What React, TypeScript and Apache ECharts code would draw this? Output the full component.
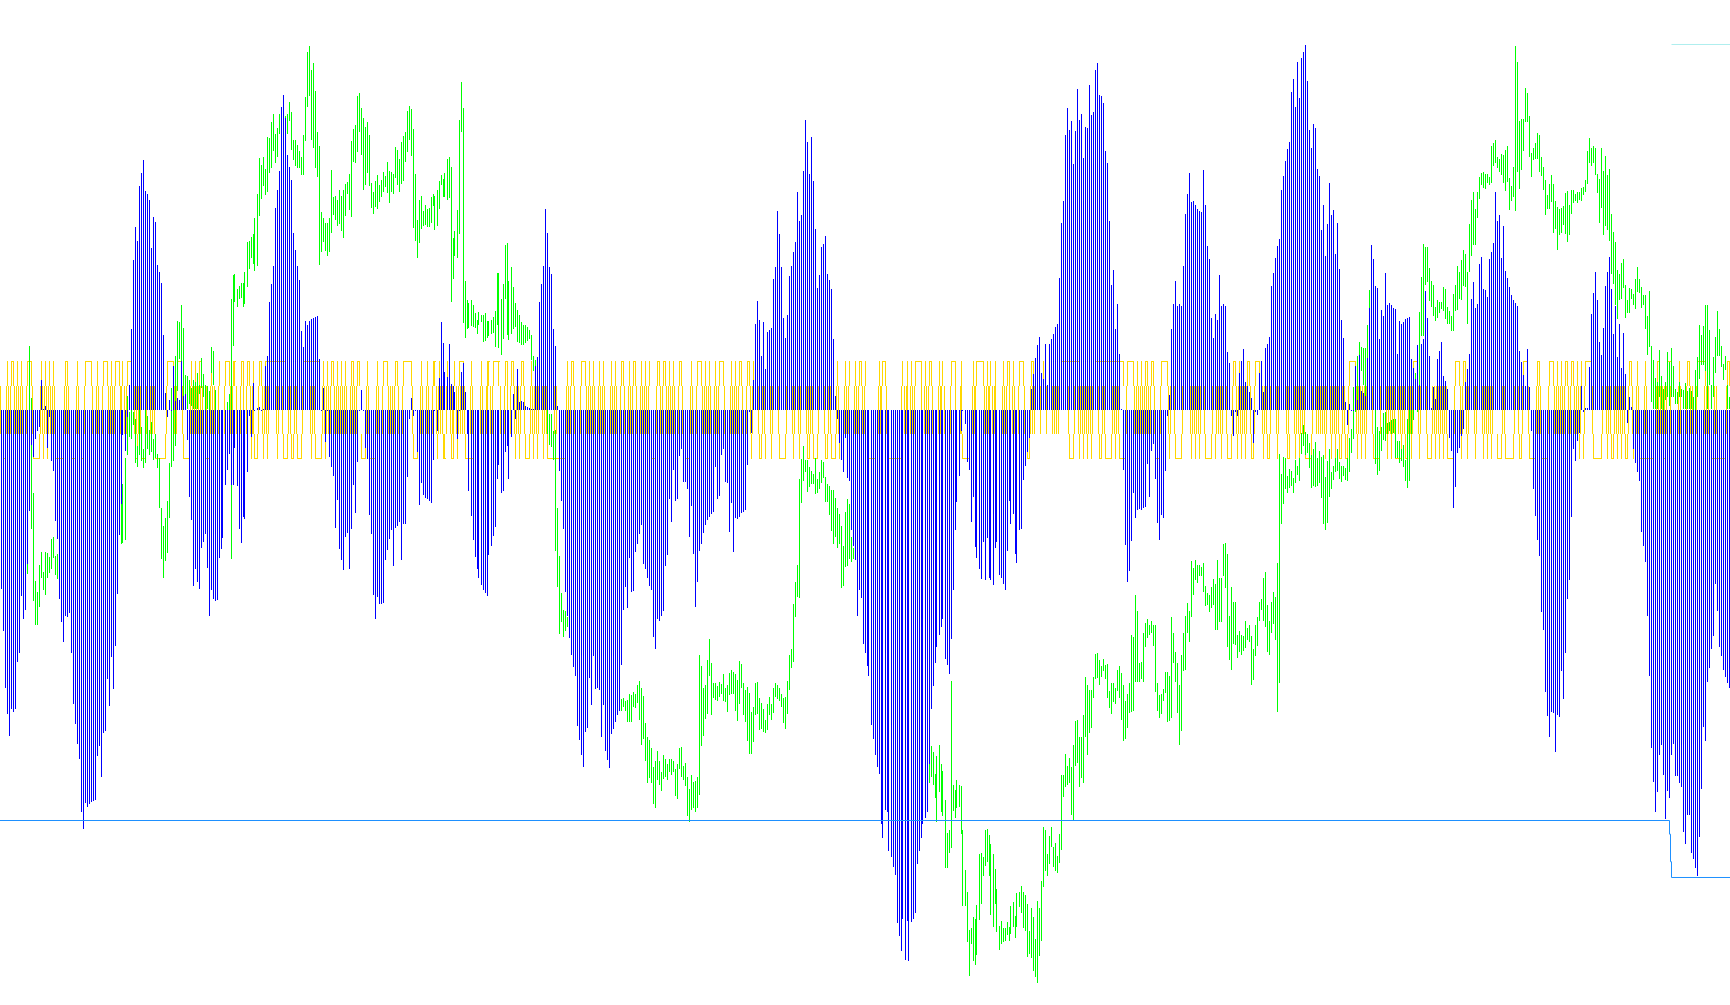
import React, { useEffect, useRef } from "react";
import * as echarts from "echarts";

// Readings taken panel by panel; 621 is the reading of the zero line.
const ZERO_READING = 621;

const bluePanel1 = [
914,982,1076,1117,1154,1110,1114,1110,1033,1018,925,963,
948,873,786,678,698,669,655,648,572,620,614,683,
632,705,720,803,832,930,968,1000,957,960,953,1018,
1102,1134,1167,1191,1278,1306,1263,1270,1265,1262,1260,1258,
1186,1170,1221,1149,1145,1061,1105,1025,1077,1007,922,825,
775,662,688,632,580,488,376,322,345,255,234,212,
263,268,278,356,305,314,384,395,413,498,593,633,
604,622,549,606,601,604,541,598,595,670,763,801,
909,881,902,914,847,837,823,879,958,915,930,933];
const bluePanel2 = [
932,863,848,830,744,719,693,743,744,683,745,816,
839,796,799,723,630,665,577,621,617,616,621,619,
549,533,445,415,385,291,261,230,126,106,144,205,
224,246,332,360,386,409,492,518,476,482,476,472,
470,469,467,537,621,585,673,623,698,714,729,814,
768,848,866,883,829,822,881,816,744,790,706,622,
589,622,683,701,793,824,923,963,927,938,938,937,
866,850,832,817,876,814,811,804,866,807,807,731,
636,601,631,621,690,776,741,760,765,767,770,773];
const bluePanel3 = [
703,622,656,568,477,511,559,567,513,578,581,591,
669,621,559,544,591,660,754,794,834,861,881,896,
907,915,920,925,858,843,827,812,734,711,757,754,
690,680,734,665,595,636,554,608,606,608,614,616,
618,620,620,549,534,445,415,385,292,331,387,399,
488,516,614,721,770,816,919,958,993,1022,1041,1056,
1137,1160,1185,1204,1147,1141,1059,1103,1023,1077,1075,1079,
1155,1103,1178,1193,1206,1150,1142,1131,1119,1113,1037,948,
910,945,863,919,917,853,840,823,809,873,881,896];
const bluePanel4 = [
909,915,992,1012,963,965,957,950,876,858,767,804,
719,770,767,696,685,738,739,750,829,778,856,943,
902,852,840,822,809,801,795,791,788,714,767,762,
695,685,738,740,821,773,853,798,799,795,789,787,
785,711,625,659,572,480,443,474,533,478,554,494,
491,487,407,388,296,333,388,470,504,465,402,385,
363,346,265,312,302,230,147,183,235,175,247,325,
422,400,354,350,336,399,408,423,505,598,636,675,
703,723,667,732,737,817,843,866,958,915,928,1003];
const bluePanel5 = [
1018,1039,1056,1136,1159,1184,1204,1216,1297,1320,1275,1278,
1342,1352,1368,1381,1459,1480,1505,1453,1520,1456,1521,1458,
1452,1443,1363,1342,1320,1298,1288,1278,1200,1110,1072,1035,
1008,989,975,962,1028,1038,1052,995,915,817,772,729,
655,622,644,706,719,804,763,845,863,881,897,837,
899,830,895,899,907,847,836,891,895,905,915,851,
769,808,791,856,871,817,816,736,712,689,667,587,
562,536,514,501,561,570,513,580,513,505,497,485,
480,405,315,279,171,128,163,149,219,165,96,147];
const bluePanel6 = [
137,209,158,161,90,139,134,65,54,106,108,119,
198,217,312,416,392,489,448,529,619,719,842,902,
884,835,757,798,785,782,784,781,780,710,763,688,
677,734,806,834,792,797,721,630,596,488,448,410,
451,448,451,385,301,268,234,281,279,286,292,296,
297,229,286,353,374,470,503,464,474,400,451,448,
451,526,544,631,664,625,631,560,541,521,575,581,
591,601,675,625,629,560,541,591,519,513,501,418,
397,372,353,341,261,238,214,194,183,101,80,126];
const bluePanel7 = [
52,112,46,36,24,83,163,193,154,160,227,238,
327,286,369,317,250,302,294,366,315,390,474,503,
608,645,611,621,621,549,605,531,590,593,598,536,
454,351,374,418,421,505,457,467,397,449,446,449,
454,456,529,475,480,477,472,470,469,537,552,570,
514,580,513,505,426,470,532,618,584,603,537,524,
510,565,574,586,666,688,781,746,692,683,664,652,
575,554,529,439,412,454,447,382,371,423,425,436,
374,363,348,265,312,302,372,320,394,405,420,433];
const bluePanel8 = [
441,446,451,524,542,563,581,521,583,655,750,794,
833,860,951,981,1082,1121,1155,1114,1116,1180,1120,1123,
1047,1093,1018,930,899,795,685,705,672,658,581,625,
618,617,550,464,430,395,441,510,531,487,418,395,
371,423,497,451,534,480,552,495,562,642,599,616,
685,707,723,737,820,843,869,958,1056,1173,1229,1278,
1245,1184,1168,1217,1290,1244,1255,1185,1167,1219,1219,1230,
1237,1311,1330,1282,1283,1345,1355,1369,1383,1319,1240,1139,
1162,1066,1042,1012,990,905,950,1008,1023,1045,1057,1067,1075];

// Each panel: high reading, low reading, bar after bar.
const greenPanel1 = [
730,800,740,820,760,860,780,880,770,870,760,870,780,880,800,900,810,905,790,880,770,860,740,830,
700,800,650,889,516,760,601,816,756,933,900,972,918,972,875,943,853,895,885,915,853,923,854,896,
861,887,831,880,828,863,860,890,857,897,840,900,820,880,800,870,810,880,790,860,780,850,800,870,
820,880,830,890,810,870,780,850,760,830,770,840,790,860,800,870,780,850,770,840,790,850,800,860,
810,870,790,850,780,840,800,860,810,870,790,850,770,830,760,830,780,840,760,820,740,830,740,810,
775,840,742,838,700,833,598,695,625,665,615,668,625,645,635,708,680,714,620,695,648,705,685,715,
620,708,630,685,653,695,640,690,668,702,660,700,693,715,700,781,781,864,810,895,797,867,769,855,
707,797,585,714,620,705,533,680,475,590,478,537,450,568,487,600,563,612,565,620,572,612,585,615,
572,620,575,620,560,620,580,595,536,585,562,600,580,630,581,620,590,640,518,560,524,580,588,640];
const greenPanel2 = [
640,760,640,780,650,800,650,790,640,740,608,700,595,690,439,865,400,517,399,445,423,453,419,440,
413,438,413,453,395,447,346,420,345,390,338,373,333,383,308,394,268,385,210,304,220,276,207,255,
227,270,175,265,177,233,150,226,138,198,170,218,160,208,137,170,127,160,130,170,140,175,138,170,
118,148,134,197,180,213,180,222,188,225,198,225,207,237,171,237,109,182,36,126,27,108,65,180,
54,193,100,225,167,240,189,384,297,363,307,346,315,361,315,370,307,363,229,331,273,302,271,311,
278,320,261,317,271,328,261,340,252,304,248,268,235,295,181,306,162,215,155,218,108,200,103,166,
127,204,144,261,158,253,150,234,171,255,250,291,265,300,247,289,237,293,253,281,245,273,232,265,
238,256,216,266,230,282,232,265,235,268,192,242,197,254,211,265,183,252,173,247,167,216,132,200,
124,180,129,206,162,323,235,345,310,373,278,348,271,325,296,321,286,318,293,322,291,322,273,315];
const greenPanel3 = [
268,287,272,327,261,321,247,293,237,254,243,273,234,273,211,278,207,274,224,445,340,407,328,369,
295,373,147,333,85,167,127,479,410,504,441,489,446,487,441,484,449,485,462,487,474,497,461,482,
465,477,465,510,462,508,475,503,475,500,474,497,469,495,459,518,397,482,397,520,439,531,415,505,
351,440,348,499,410,507,387,497,420,489,446,485,457,510,465,512,477,514,482,515,482,511,485,508,
491,505,498,540,532,558,540,570,550,580,530,590,540,585,560,600,580,615,620,660,627,678,627,681,
655,703,653,852,781,910,859,987,920,968,947,992,950,982,960,975,950,985,960,1015,970,1035,980,1050,
990,1060,1000,1060,1000,1050,1000,1050,1000,1050,1000,1050,1000,1050,1000,1050,980,1020,1000,1060,1010,1065,1020,1070,
1030,1075,1040,1095,1040,1095,1040,1100,1050,1100,1050,1100,1050,1100,1060,1105,1060,1105,1070,1110,1093,1112,1091,1107,
1096,1112,1094,1131,1085,1131,1086,1131,1081,1107,1085,1108,1070,1100,1063,1128,1076,1168,1088,1158,1132,1195,1155,1231];
const greenPanel4 = [
1160,1222,1174,1231,1205,1264,1194,1271,1178,1226,1194,1234,1212,1244,1184,1224,1191,1220,1200,1226,1192,1212,1191,1217,
1195,1213,1207,1251,1200,1257,1173,1208,1171,1220,1202,1225,1197,1235,1220,1284,1240,1294,1217,1275,1229,1271,1227,1278,
1220,1272,1021,1250,1040,1170,1075,1153,1070,1126,1029,1118,995,1056,1034,1119,1067,1092,1067,1095,1072,1097,1065,1090,
1068,1085,1052,1097,1075,1098,1071,1115,1050,1087,1045,1085,1049,1085,1052,1113,1062,1129,1031,1101,1036,1075,1067,1119,
1079,1131,1073,1162,1083,1183,1114,1183,1106,1164,1067,1119,1065,1117,1091,1144,1100,1142,1109,1147,1127,1148,1102,1143,
1090,1120,1102,1128,1076,1116,1067,1090,1071,1093,1076,1097,1085,1107,1091,1133,1090,1142,1063,1118,1022,1079,1012,1043,
938,1033,902,959,874,927,733,928,701,773,679,737,702,722,703,755,714,746,720,742,726,742,700,758,
733,757,722,750,702,740,706,732,730,771,742,771,745,792,751,818,751,840,764,829,781,846,791,840,
811,911,844,908,787,878,767,876,774,864,828,870,846,865,840,860,860,900,880,910,880,920,900,960];
const greenPanel5 = [
930,1000,940,1010,960,1030,980,1060,990,1080,1000,1090,1010,1100,1030,1120,1050,1140,1060,1150,1070,1150,1080,1170,
1090,1180,1100,1190,1100,1190,1110,1200,1120,1210,1130,1220,1130,1230,1140,1240,1140,1240,1150,1250,1150,1250,1160,1250,
1170,1260,1180,1270,1190,1280,1180,1270,1180,1270,1170,1260,1170,1260,1170,1230,1170,1230,1170,1220,1180,1233,1215,1255,
1186,1294,1168,1245,1200,1278,1210,1285,1258,1369,1312,1369,1308,1345,1063,1336,1233,1276,1242,1288,1225,1271,1233,1270,
1236,1314,1307,1431,1372,1431,1408,1490,1471,1546,1467,1494,1450,1521,1452,1527,1429,1511,1347,1455,1344,1428,1352,1383,
1307,1366,1305,1360,1316,1383,1330,1446,1346,1466,1371,1428,1403,1474,1464,1503,1456,1493,1468,1490,1467,1488,1458,1478,
1465,1488,1431,1477,1425,1465,1447,1483,1410,1465,1408,1433,1398,1443,1408,1468,1413,1472,1428,1515,1473,1510,1434,1517,
1450,1537,1486,1547,1423,1557,1434,1513,1390,1488,1303,1400,1308,1375,1347,1382,1317,1362,1302,1335,1335,1367,1328,1375,
1349,1377,1313,1361,1218,1340,1218,1253,1183,1237,1202,1233,1189,1230,1205,1282,1168,1293,1129,1203,1127,1197,1156,1237];
const greenPanel6 = [
1156,1222,1120,1231,1058,1156,1070,1184,1078,1148,1078,1140,1057,1092,1019,1061,1018,1059,1029,1070,1040,1057,1027,1048,
1038,1060,1036,1091,1080,1108,1067,1118,1067,1098,1075,1101,1045,1080,1039,1092,1050,1127,1071,1162,1096,1158,1085,1140,
1067,1116,988,1115,992,1113,924,1066,949,1065,1034,1065,1032,1060,985,1065,969,1008,962,994,972,988,965,985,
972,1006,972,1081,1067,1112,1086,1124,1085,1117,1077,1097,1049,1083,1049,1130,1055,1129,960,1124,985,1034,1017,1065,
1035,1116,1071,1168,1021,1145,985,1047,957,1045,936,986,949,1000,867,960,879,923,866,899,875,903,875,893,
878,893,871,918,908,941,920,940,924,951,910,945,897,939,905,980,866,980,895,967,895,967,840,893,
838,911,857,1008,957,1030,910,1045,934,1003,934,1005,988,1026,982,1016,989,1021,990,1015,965,1010,977,997,
972,1000,990,1070,1011,1062,972,1023,959,1006,935,965,929,948,895,965,885,975,939,1017,965,1021,934,985,
918,970,926,996,871,1114,693,1067,725,808,697,774,700,750,729,756,717,748,721,745,732,756,702,740];
const greenPanel7 = [
712,728,700,737,658,693,645,680,657,695,661,691,675,715,694,748,684,745,673,746,700,745,688,740,
697,764,694,808,730,817,704,805,684,763,723,750,713,736,700,722,684,720,706,733,712,738,713,729,
715,736,700,737,666,722,652,691,583,668,553,625,532,605,510,590,518,557,519,580,520,600,482,538,
425,480,460,520,520,620,580,710,648,727,655,720,649,688,626,670,625,672,642,660,640,656,637,660,
635,658,636,700,672,700,671,707,685,705,678,714,703,737,635,748,620,737,620,660,600,637,560,600,
540,625,461,585,403,500,350,500,354,416,354,412,389,443,410,452,416,468,453,475,441,470,445,463,
444,456,420,460,423,473,452,480,460,480,467,492,432,492,416,460,385,457,395,440,376,441,359,418,
366,420,395,480,317,395,278,370,265,352,292,352,265,307,240,276,234,254,232,258,235,260,236,250,
240,253,189,250,184,222,180,217,207,226,211,232,203,237,204,250,196,263,189,248,242,295,255,279];
const greenPanel8 = [
224,273,26,296,52,232,148,260,145,229,145,198,95,150,103,150,140,208,201,240,193,212,185,211,
168,211,171,232,207,238,224,261,245,302,269,292,252,293,237,281,252,332,279,326,290,360,293,335,
291,331,288,318,266,333,263,347,286,335,262,300,261,282,268,279,264,283,265,278,258,279,256,269,
246,265,198,252,176,217,193,222,189,217,193,237,235,266,243,315,193,291,230,335,206,320,237,327,
227,345,301,398,330,415,346,450,393,472,398,442,381,440,374,422,417,470,441,463,421,462,423,440,
432,450,407,456,387,428,407,430,420,454,433,450,433,488,467,531,426,518,516,608,539,620,568,620,
575,620,523,600,565,620,586,621,575,605,526,600,542,615,519,600,549,600,586,612,591,612,575,600,
586,600,588,620,577,620,590,620,585,620,590,620,600,625,555,621,534,600,482,570,498,547,483,548,
449,557,449,620,490,580,580,620,534,600,501,560,459,532,488,532,516,550,546,572,532,556,580,620,600,620];

// Bars, counted inside each panel, at which the yellow trace has a stroke in each tier.
const yellowMidByPanel = [
[0,3,4,5,7,8,9,10,11,13,16,20,21,22,23,24,25,26,27,32,33,34,38,39,42,46,48,49,51,54,55,56,57,60,61,62,63,67,68,69,70,73,75,76,77,83,87,88,91,95,96,97,98,99,100,101,103,105,106,107],
[1,4,7,8,10,12,14,15,17,18,19,21,23,24,25,26,30,31,33,36,37,39,40,43,47,48,49,53,54,55,56,57,59,60,61,62,63,64,65,67,68,69,70,75,76,80,81,83,86,87,88,89,91,93,98,102,103,105,106],
[0,2,3,4,5,7,9,10,11,12,13,14,15,16,19,20,24,25,27,28,29,30,34,36,38,39,41,42,43,44,46,49,50,51,52,53,55,56,57,61,62,67,68,69,71,74,77,78,79,80,81,83,84,85,86,89,90,91,92,94,96,98,99,100,102,104,105,106,107],
[0,4,6,7,9,10,11,12,13,15,17,21,22,24,27,28,29,30,31,33,34,35,38,41,42,43,44,45,47,49,51,52,55,57,58,61,62,65,69,72,73,75,76,79,80,81,82,85,88,90,91,94,95,98,99,100,103,104,105,107],
[0,7,8,9,11,19,20,21,22,23,24,25,29,30,31,32,34,37,38,39,40,43,46,48,49,54,55,56,60,61,62,63,64,65,66,69,70,71,73,74,75,77,80,83,84,85,88,91,94,95,96,97,102,105,107],
[0,1,2,3,4,5,6,9,11,12,16,17,18,19,23,27,28,29,30,31,32,33,34,35,37,40,44,45,47,51,55,56,57,58,59,60,62,66,68,69,70,71,73,76,78,79,80,81,82,83,85,87,91,92,93,95,98,99,103,104,107],
[0,1,2,3,4,8,10,11,12,13,14,15,17,18,19,20,21,23,24,26,30,31,32,33,34,35,38,42,45,46,47,48,49,51,52,53,54,56,57,58,61,62,65,68,69,70,71,72,73,74,75,79,82,83,85,86,89,90,93,94,95,96,97,98,103,104],
[1,3,5,8,12,13,14,18,21,22,23,24,25,26,28,29,31,32,33,34,36,40,45,47,48,49,51,52,53,54,55,56,58,60,62,63,66,67,72,73,74,75,76,77,79,83,84,87,89,90,92,96,97,98,101,102,107],
];
const yellowTopByPanel = [
[3,5,6,8,10,13,14,15,20,22,24,26,32,33,38,42,43,44,45,48,51,52,53,55,57,58,59,61,63,64,65,83,84,85,86,88,89,90,95,97,99,100,105],
[1,4,5,6,8,9,12,13,15,16,18,21,22,24,25,26,27,28,29,30,31,32,33,34,43,44,45,46,47,48,49,50,51,53,55,57,58,60,62,64,67,68,70,71,75,80,83,84,85,89,90,93,94,95,96,97,102,105],
[0,1,3,7,11,13,14,15,19,24,27,28,30,31,32,33,36,37,39,40,44,45,49,67,69,70,74,75,76,78,80,83,85,89,91,94,95,98,100,101,104,106],
[0,4,5,7,8,10,12,15,16,21,24,25,26,28,30,33,35,36,37,41,43,45,46,49,50,52,94,98,100,103,105,106],
[0,7,9,10,19,21,23,25,26,27,28,30,32,33,37,39,43,44,45,48,54,56,57,58,59,61,63,65,69,71,72,74,77,78,79,83,84,89,98,99,100,101,102,103,104,105,106,107],
[7,8,9,10,11,12,13,14,15,16,17,18,19,20,21,23,24,25,26,28,30,32,33,35,36,40,41,42,43,76,77,79,83,84,87,88,89],
[26,27,28,29,58,59,60,79,80,81,83,84],
[5,6,7,12,13,18,19,20,22,24,26,27,29,30,32,34,36,37,38,39,58,59,62,66,72,73,77,78,79,83,87,88,92,93,94,95,96,100,107,108],
];
const yellowLowByPanel = [
[1,2,12,16,17,18,19,21,23,27,28,29,30,31,35,36,37,40,41,47,50,67,68,70,71,72,77,78,79,80,81,82,91,92,93,94,102,103,104],
[0,17,19,20,23,25,30,33,34,35,37,38,40,41,42,47,49,50,51,52,54,72,73,74,76,77,78,79,91,98,99,100],
[2,5,6,9,10,12,16,17,18,19,20,41,43,46,47,48,50,52,55,57,58,59,60,61,62,63,64,65,66,86],
[1,2,3,18,19,20,51,55,56,58,61,65,66,67,68,72,75,79,80,82,83,84,88,89,91,92,93,95],
[1,2,3,4,5,11,12,13,14,15,16,17,18,35,41,49,50,51,52,81,82,102,103,104,107],
[1,3,5,9,10,12,13,14,15,17,19,20,21,22,37,38,39,44,47,48,49,50,55,57,59,62,63,64,65,67,70,73,74,75,78,80,82,85,86,91,93,94,98,103,104,107],
[1,4,5,6,7,14,17,19,21,22,24,25,30,32,34,38,39,40,41,45,47,49,50,51,52,54,55,57,61,65,66,67,69,71,73,75,76,77,78,82,85,89,93,95,97,100,101,102,104,105,106,107],
[0,3,4,8,9,10,11,14,15,16,17,33,35,40,41,42,43,44,47,49,50,52,54,56,57,60,63,64,65,66,67,68,69,70,75,76,99,100,101,102,103,104,105,106],
];

// Tier levels of the yellow trace, in the same units as the values.
const yellowLevels = [80, 40, -39, -79];

// Channel lines: x in chart pixels, y in the same units as the values.
const lowerLineX = [0, 1669.5, 1669.5, 1670.5, 1670.5, 1671.5, 1671.5, 1730];
const lowerLineY = [-670.7, -670.7, -693, -693, -738, -738, -763.8, -763.8];
const upperLineX = [1671.5, 1730];
const upperLineY = [597.2, 597.2];

const BLUE = "#0000ff";
const GREEN = "#00ff00";
const GOLD = "#ffd700";
const PANEL_BARS = 108;

const toValue = (reading: number) => ZERO_READING - reading;

const blueValues = [
  ...bluePanel1, ...bluePanel2, ...bluePanel3, ...bluePanel4,
  ...bluePanel5, ...bluePanel6, ...bluePanel7, ...bluePanel8,
].map(toValue);

const greenFlat = [
  ...greenPanel1, ...greenPanel2, ...greenPanel3, ...greenPanel4,
  ...greenPanel5, ...greenPanel6, ...greenPanel7, ...greenPanel8,
];
const greenRows: number[][] = [];
for (let i = 0; i + 1 < greenFlat.length; i += 2) {
  greenRows.push([greenRows.length, toValue(greenFlat[i]), toValue(greenFlat[i + 1])]);
}

const categories = blueValues.map((_, i) => String(i));

const flatten = (panels: number[][]) => {
  const out = new Set<number>();
  panels.forEach((list, p) => list.forEach((b) => out.add(b + p * PANEL_BARS)));
  return out;
};
const yellowMid = flatten(yellowMidByPanel);
const yellowTop = flatten(yellowTopByPanel);
const yellowLow = flatten(yellowLowByPanel);

const rectEl = (x: number, y: number, width: number, height: number, fill: string) => ({
  type: "rect",
  shape: { x, y, width, height },
  style: { fill },
  silent: true,
});

// The bar's own column: the odd pixel column under the band centre.
const barColumn = (coordX: number) => Math.floor(coordX);

const renderSpan = (fill: string) => (_: any, api: any) => {
  const i = api.value(0);
  const a = api.coord([i, api.value(1)]);
  const b = api.coord([i, api.value(2)]);
  const y0 = Math.round(Math.min(a[1], b[1]));
  const y1 = Math.round(Math.max(a[1], b[1]));
  return rectEl(barColumn(a[0]), y0, 1, Math.max(1, y1 - y0), fill);
};

const renderYellow = (_: any, api: any) => {
  const i = api.value(0);
  const x = barColumn(api.coord([i, 0])[0]);
  const [t, u, d, l] = yellowLevels.map((v) => Math.round(api.coord([i, v])[1]));
  const children: any[] = [];
  if (yellowMid.has(i)) children.push(rectEl(x - 1, u, 1, d - u, GOLD));
  const tier = (set: Set<number>, y: number, h: number, edge: number) => {
    if (!set.has(i)) return;
    const prev = set.has(i - 1);
    const next = set.has(i + 1);
    if (!prev || !next) children.push(rectEl(x, y, 1, h, GOLD));
    if (next) children.push(rectEl(x, edge, 3, 1, GOLD));
  };
  tier(yellowTop, t, u - t, t);
  tier(yellowLow, d, l - d + 1, l);
  return { type: "group", children };
};

const toPairs = (xs: number[], ys: number[]) => xs.map((x, i) => [x, ys[i]]);

export default function App() {
  const ref = useRef<HTMLDivElement>(null);
  useEffect(() => {
    document.body.style.margin = "0";
    document.body.style.background = "#ffffff";
    const chart = echarts.init(ref.current!, undefined, { renderer: "svg" });
    const yMax = 669.88;
    chart.setOption({
      animation: false,
      backgroundColor: "#ffffff",
      grid: { left: 0, top: 0, width: 1730, height: 1005, containLabel: false },
      tooltip: { show: false },
      xAxis: [
        { type: "category", data: categories, show: false, boundaryGap: true },
        { type: "value", min: 0, max: 1730, show: false, splitLine: { show: false } },
      ],
      yAxis: { type: "value", min: yMax - 1642, max: yMax, show: false, splitLine: { show: false } },
      series: [
        {
          type: "custom",
          name: "Yellow",
          z: 1,
          silent: true,
          clip: false,
          data: categories.map((_, i) => [i]),
          encode: { x: 0 },
          renderItem: renderYellow,
        },
        {
          type: "custom",
          name: "Green",
          z: 2,
          silent: true,
          clip: false,
          data: greenRows,
          encode: { x: 0, y: [1, 2] },
          renderItem: renderSpan(GREEN),
        },
        {
          type: "custom",
          name: "Blue",
          z: 3,
          silent: true,
          clip: false,
          data: blueValues.map((v, i) => [i, 0, v]),
          encode: { x: 0, y: [1, 2] },
          renderItem: renderSpan(BLUE),
        },
        {
          type: "line",
          name: "Lower",
          z: 4,
          xAxisIndex: 1,
          silent: true,
          showSymbol: false,
          data: toPairs(lowerLineX, lowerLineY),
          lineStyle: { color: "#1e90ff", width: 1 },
        },
        {
          type: "line",
          name: "Upper",
          z: 4,
          xAxisIndex: 1,
          silent: true,
          showSymbol: false,
          data: toPairs(upperLineX, upperLineY),
          lineStyle: { color: "#afeeee", width: 1 },
        },
      ],
    });
    return () => chart.dispose();
  }, []);
  return (
    <div
      ref={ref}
      style={{ position: "fixed", left: 0, top: 0, width: 1730, height: 1005, overflow: "hidden" }}
    />
  );
}
